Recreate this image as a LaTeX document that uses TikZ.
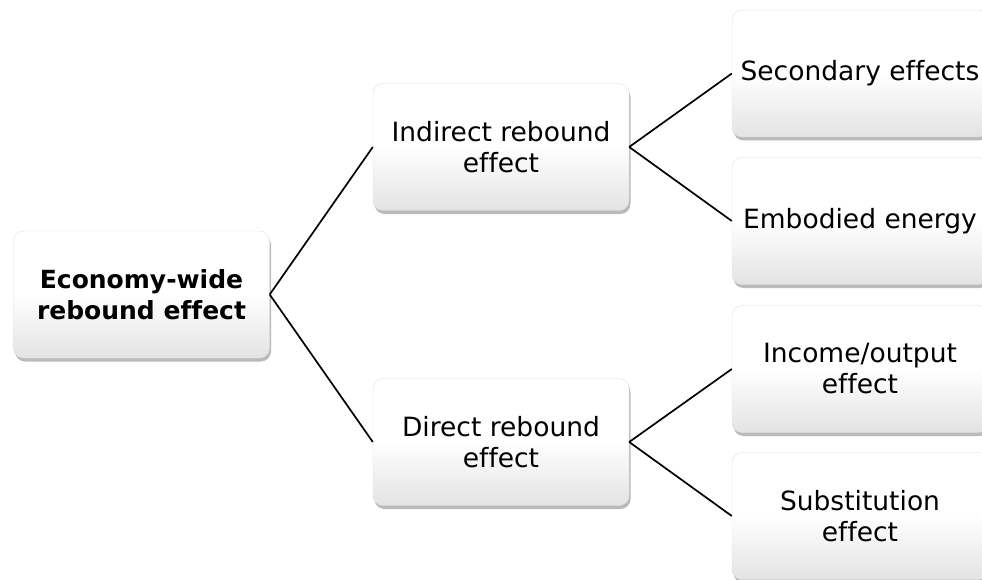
\documentclass[tikz,border=0pt]{standalone}
\usepackage{fontspec}
\setmainfont[Ligatures=NoCommon]{DejaVu Sans}
\usepackage{tikz}
\usetikzlibrary{positioning,shadows}

\begin{document}
\begin{tikzpicture}[x=1pt, y=-1pt, every node/.style={font=\fontsize{26.5}{31}\selectfont},
  box/.style={rounded corners=10pt, align=center, minimum width=256pt, minimum height=127pt,
    top color=white, bottom color=gray!22, middle color=white, draw=gray!25, line width=0.4pt,
    drop shadow={shadow xshift=1.5pt, shadow yshift=-3.5pt, opacity=0.6, fill=gray!90}},
  link/.style={line width=1.7pt}]
\useasboundingbox (0,0) rectangle (982,580);
\clip (0,0) rectangle (982,580);
\node[box, font=\fontsize{25}{31}\selectfont\bfseries] (econ) at (141.5,294.5) {Economy-wide\\rebound effect};
\node[box] (ind) at (501,147) {Indirect rebound\\effect};
\node[box] (dir) at (501,442) {Direct rebound\\effect};
\node[box] (sec) at (860,73.5) {Secondary effects};
\node[box] (emb) at (860,221) {Embodied energy};
\node[box] (inc) at (860,369) {Income/output\\effect};
\node[box] (sub) at (860,516) {Substitution\\effect};
\draw[link] (econ.east) -- (ind.west); \draw[link] (econ.east) -- (dir.west);
\draw[link] (ind.east) -- (sec.west); \draw[link] (ind.east) -- (emb.west);
\draw[link] (dir.east) -- (inc.west); \draw[link] (dir.east) -- (sub.west);
\end{tikzpicture}
\end{document}
